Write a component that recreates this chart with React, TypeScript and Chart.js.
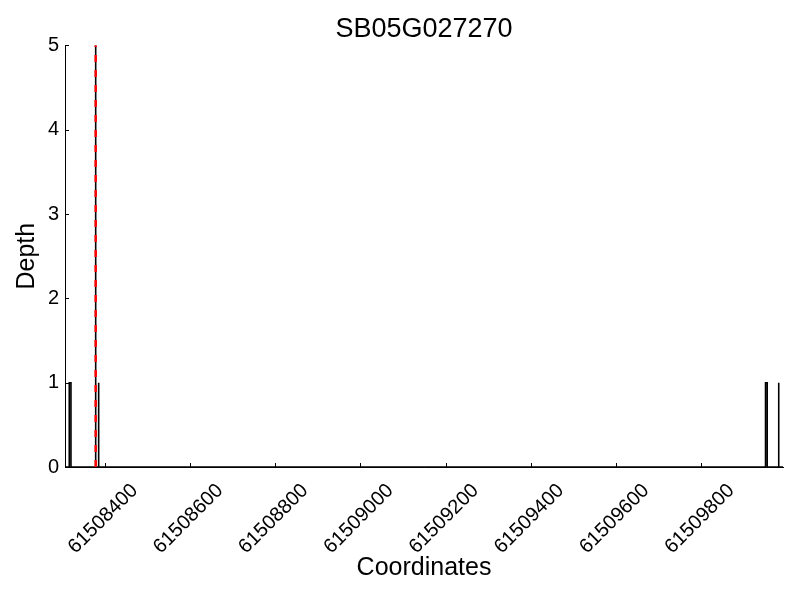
import React, { useEffect, useRef } from "react";
import { Chart, registerables } from "chart.js";

Chart.register(...registerables);

const chartTitle = "SB05G027270";
const xAxisTitle = "Coordinates";
const yAxisTitle = "Depth";

const xMin = 61508307;
const xMax = 61509992;
const xTicks = [61508400, 61508600, 61508800, 61509000, 61509200, 61509400, 61509600, 61509800];
const yTicks = [0, 1, 2, 3, 4, 5];

// coverage segments (start, end, depth)
const coverStart = [61508317, 61508379, 61508386, 61509951, 61509982];
const coverEnd = [61508321, 61508379, 61508386, 61509955, 61509982];
const coverDepth = [1, 5, 1, 1, 1];

const markerPos = 61508379;
const markerTop = 5;

const FONT = "'Liberation Sans', Arial, Helvetica, sans-serif";

function buildDepthPoints() {
  const pts: { x: number; y: number }[] = [{ x: xMin, y: 0 }];
  for (let i = 0; i < coverStart.length; i++) {
    pts.push({ x: coverStart[i], y: 0 });
    pts.push({ x: coverStart[i], y: coverDepth[i] });
    pts.push({ x: coverEnd[i], y: coverDepth[i] });
    pts.push({ x: coverEnd[i], y: 0 });
  }
  pts.push({ x: xMax, y: 0 });
  return pts;
}

const inwardTicks = {
  id: "inwardTicks",
  afterDraw(chart: any) {
    const { ctx, scales, chartArea } = chart;
    const xs = scales.x;
    const ys = scales.y;
    ctx.save();
    ctx.strokeStyle = "#000";
    ctx.lineWidth = 1;
    ctx.beginPath();
    for (const v of xTicks) {
      const px = Math.round(xs.getPixelForValue(v)) + 0.5;
      ctx.moveTo(px, chartArea.bottom);
      ctx.lineTo(px, chartArea.bottom - 4);
    }
    for (const v of yTicks) {
      const py = Math.round(ys.getPixelForValue(v)) + 0.5;
      ctx.moveTo(chartArea.left, py);
      ctx.lineTo(chartArea.left + 4, py);
    }
    ctx.stroke();
    ctx.restore();
  },
};

export default function App() {
  const ref = useRef<HTMLCanvasElement | null>(null);

  useEffect(() => {
    if (!ref.current) return;
    const chart = new Chart(ref.current, {
      type: "line",
      data: {
        datasets: [
          {
            label: "marker",
            data: [
              { x: markerPos, y: 0 },
              { x: markerPos, y: markerTop },
            ],
            borderColor: "#ff0000",
            borderWidth: 2.5,
            borderDash: [7, 8],
            pointRadius: 0,
            tension: 0,
            order: 0,
            clip: false,
          },
          {
            label: "depth",
            data: buildDepthPoints(),
            borderColor: "#000000",
            borderWidth: 1.6,
            pointRadius: 0,
            tension: 0,
            order: 1,
            clip: false,
          },
        ],
      },
      options: {
        animation: false,
        responsive: false,
        maintainAspectRatio: false,
        layout: { padding: { left: 0, right: 17, top: 0, bottom: 0 } },
        plugins: {
          legend: { display: false },
          tooltip: { enabled: false },
          title: {
            display: true,
            fullSize: false,
            text: chartTitle,
            color: "#000",
            font: { family: FONT, size: 27, weight: "normal" },
            padding: { top: 13, bottom: 0 },
          },
        },
        scales: {
          x: {
            type: "linear",
            min: xMin,
            max: xMax,
            afterBuildTicks: (scale: any) => {
              scale.ticks = xTicks.map((v) => ({ value: v }));
            },
            afterFit: (scale: any) => {
              scale.height = 133;
            },
            grid: { display: false, drawTicks: false },
            border: { display: true, color: "#000", width: 1 },
            ticks: {
              autoSkip: false,
              minRotation: 45,
              maxRotation: 45,
              padding: 12,
              labelOffset: 30,
              color: "#000",
              font: { family: FONT, size: 20 },
              callback: (v: any) => String(v),
            },
            title: {
              display: true,
              text: xAxisTitle,
              color: "#000",
              font: { family: FONT, size: 25 },
              padding: { top: 0, bottom: 17 },
            },
          },
          y: {
            type: "linear",
            min: 0,
            max: 5,
            afterBuildTicks: (scale: any) => {
              scale.ticks = yTicks.map((v) => ({ value: v }));
            },
            afterFit: (scale: any) => {
              scale.width = 65;
            },
            grid: { display: false, drawTicks: false },
            border: { display: true, color: "#000", width: 1 },
            ticks: {
              padding: 6,
              color: "#000",
              font: { family: FONT, size: 20 },
              callback: (v: any) => String(v),
            },
            title: {
              display: true,
              text: yAxisTitle,
              color: "#000",
              font: { family: FONT, size: 25 },
              padding: { top: 12, bottom: 0 },
            },
          },
        },
      },
      plugins: [inwardTicks],
    });
    return () => chart.destroy();
  }, []);

  return (
    <div style={{ position: "fixed", left: 0, top: 0, width: 800, height: 600, background: "#fff" }}>
      <canvas ref={ref} width={800} height={600} style={{ width: 800, height: 600 }} />
    </div>
  );
}
